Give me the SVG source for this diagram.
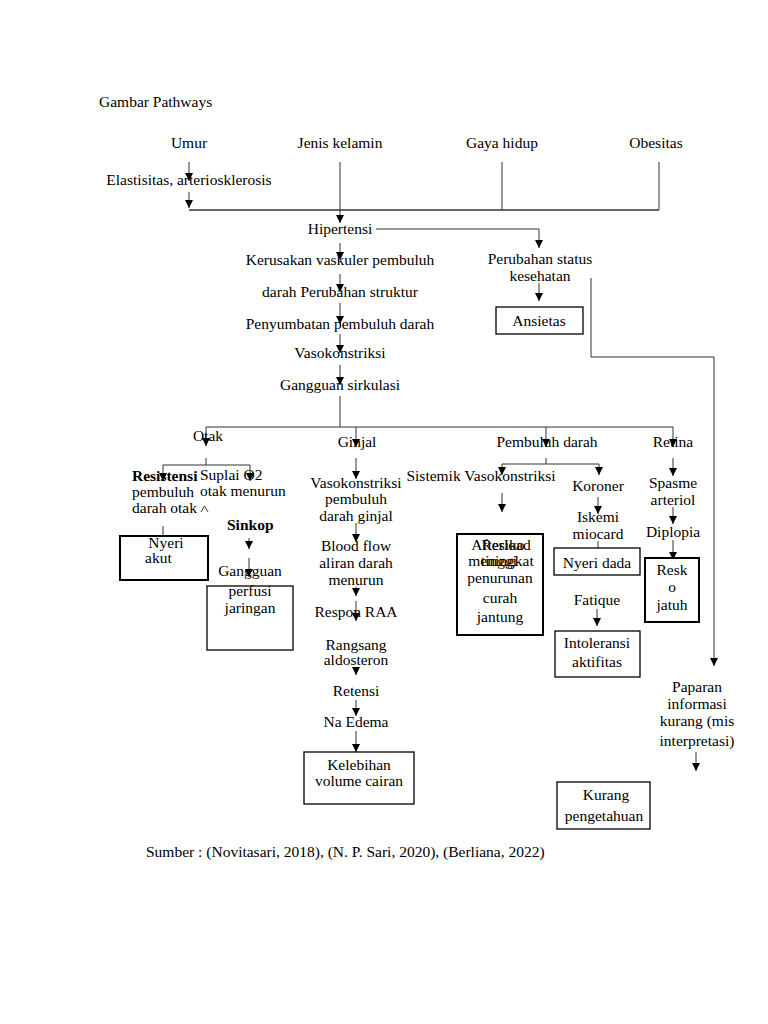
<svg xmlns="http://www.w3.org/2000/svg" width="768" height="1024" viewBox="0 0 768 1024">
<defs>
<marker id="ah" viewBox="0 0 8 8" refX="8" refY="4" markerWidth="8" markerHeight="8" markerUnits="userSpaceOnUse" orient="auto">
<path d="M0,0 L8,4 L0,8 z" fill="#000"/>
</marker>
<style>
text{font-family:"Liberation Serif","Times New Roman",serif;font-size:15.5px;fill:#000}
.c{text-anchor:middle}
.b{font-weight:bold}
.ln{fill:none;stroke:#333;stroke-width:1}
.ar{fill:none;stroke:#333;stroke-width:1;marker-end:url(#ah)}
.bx{fill:#fff;stroke:#000;stroke-width:1.3}
.bx2{fill:#fff;stroke:#000;stroke-width:2}
</style>
</defs>
<rect width="768" height="1024" fill="#fff"/>
<text x="99" y="107">Gambar Pathways</text>

<g id="connectors">
<path class="ar" d="M189,162 V181"/>
<path class="ar" d="M189,192 V208"/>
<path class="ln" d="M189,210 H659" style="stroke-width:1.6"/>
<path class="ln" d="M502,162 V210"/>
<path class="ln" d="M659,162 V210"/>
<path class="ar" d="M340,162 V223"/>
<path class="ar" d="M376,229 H539 V248"/>
<path class="ar" d="M539,283 V301"/>
<path class="ar" d="M591,278 V357 H714 V666"/>
<path class="ar" d="M340,243 V260"/>
<path class="ar" d="M340,274 V292"/>
<path class="ar" d="M340,303 V324"/>
<path class="ar" d="M340,334 V353"/>
<path class="ar" d="M340,365 V385"/>
<path class="ln" d="M340,396 V427"/>
<path class="ln" d="M206,427 H673"/>
<path class="ar" d="M206,427 V446"/>
<path class="ar" d="M356,427 V447"/>
<path class="ar" d="M546,427 V447"/>
<path class="ar" d="M673,427 V447"/>
<path class="ln" d="M206,458 V465"/>
<path class="ar" d="M163,465 H250 V481"/>
<path class="ar" d="M163,465 V481"/>
<path class="ln" d="M201,512 L204.5,506 L208,512"/>
<path class="ar" d="M163,526 V547"/>
<path class="ar" d="M249,538 V549"/>
<path class="ar" d="M249,558 V577"/>
<path class="ar" d="M356,458 V479"/>
<path class="ar" d="M356,523 V542"/>
<path class="ar" d="M356,587 V596"/>
<path class="ar" d="M356,601 V621"/>
<path class="ar" d="M356,667 V675"/>
<path class="ar" d="M356,700 V716"/>
<path class="ar" d="M356,731 V752"/>
<path class="ln" d="M546,458 V464"/>
<path class="ar" d="M502,464 H599 V475"/>
<path class="ar" d="M502,464 V475"/>
<path class="ar" d="M502,493 V512"/>
<path class="ar" d="M598,497 V514"/>
<path class="ar" d="M598,541 V558"/>
<path class="ar" d="M597,609 V626"/>
<path class="ar" d="M673,458 V476"/>
<path class="ar" d="M673,507 V524"/>
<path class="ar" d="M673,540 V560"/>
<path class="ar" d="M696,752 V771"/>
</g>

<g id="n-umur"><text class="c" x="189" y="148">Umur</text></g>
<g id="n-jenis"><text class="c" x="340" y="148">Jenis kelamin</text></g>
<g id="n-gaya"><text class="c" x="502" y="148">Gaya hidup</text></g>
<g id="n-obes"><text class="c" x="656" y="148">Obesitas</text></g>
<g id="n-elast"><text class="c" x="189" y="185">Elastisitas, arteriosklerosis</text></g>
<g id="n-hiper"><text class="c" x="340" y="234">Hipertensi</text></g>
<g id="n-perubahan"><text class="c" x="540" y="264">Perubahan status</text><text class="c" x="540" y="281">kesehatan</text></g>
<g id="n-ansietas"><rect class="bx" x="496" y="307" width="87" height="27"/><text class="c" x="539" y="326">Ansietas</text></g>
<g id="n-kerusakan"><text class="c" x="340" y="265">Kerusakan vaskuler pembuluh</text></g>
<g id="n-darah"><text class="c" x="340" y="297">darah Perubahan struktur</text></g>
<g id="n-penyumbatan"><text class="c" x="340" y="329">Penyumbatan pembuluh darah</text></g>
<g id="n-vaso"><text class="c" x="340" y="358">Vasokonstriksi</text></g>
<g id="n-gangguan"><text class="c" x="340" y="390">Gangguan sirkulasi</text></g>
<g id="n-otak"><text class="c" x="208" y="441">Otak</text></g>
<g id="n-ginjal"><text class="c" x="357" y="447">Ginjal</text></g>
<g id="n-pembuluh"><text class="c" x="547" y="447">Pembuluh darah</text></g>
<g id="n-retina"><text class="c" x="673" y="447">Retina</text></g>
<g id="n-resistensi"><text class="b" x="132" y="481">Resistensi</text><text x="132" y="497">pembuluh</text><text x="132" y="513">darah otak</text></g>
<g id="n-suplai"><text x="200" y="480">Suplai O2</text><text x="200" y="496">otak menurun</text></g>
<g id="n-nyeriakut"><rect class="bx2" x="120" y="536" width="88" height="44"/><text class="c" x="166" y="548">Nyeri</text><text x="145" y="563">akut</text></g>
<g id="n-sinkop"><text class="b" x="227" y="530">Sinkop</text></g>
<g id="n-perfusi"><rect class="bx" x="207" y="586" width="86" height="64"/><text class="c" x="250" y="576">Gangguan</text><text class="c" x="250" y="596">perfusi</text><text class="c" x="250" y="613">jaringan</text></g>
<g id="n-vasoginjal"><text class="c" x="356" y="488">Vasokonstriksi</text><text class="c" x="356" y="504">pembuluh</text><text class="c" x="356" y="521">darah ginjal</text></g>
<g id="n-blood"><text class="c" x="356" y="551">Blood flow</text><text class="c" x="356" y="568">aliran darah</text><text class="c" x="356" y="585">menurun</text></g>
<g id="n-raa"><text class="c" x="356" y="617">Respon RAA</text></g>
<g id="n-rangsang"><text class="c" x="356" y="650">Rangsang</text><text class="c" x="356" y="665">aldosteron</text></g>
<g id="n-retensi"><text class="c" x="356" y="696">Retensi</text></g>
<g id="n-edema"><text class="c" x="356" y="727">Na Edema</text></g>
<g id="n-kelebihan"><rect class="bx" x="304" y="752" width="110" height="52"/><text class="c" x="359" y="770">Kelebihan</text><text class="c" x="359" y="786">volume cairan</text></g>
<g id="n-sistemik"><text class="c" x="481" y="481">Sistemik Vasokonstriksi</text></g>
<g id="n-koroner"><text class="c" x="598" y="491">Koroner</text></g>
<g id="n-afterload"><rect class="bx2" x="457" y="534" width="86" height="101"/>
<text class="c" x="501" y="550">Afterload</text><text class="c" x="503" y="550">Resiko</text>
<text class="c" x="501" y="566">meningkat</text><text class="c" x="499" y="566">tinggi</text>
<text class="c" x="500" y="583">penurunan</text><text class="c" x="500" y="603">curah</text><text class="c" x="500" y="622">jantung</text></g>
<g id="n-iskemi"><text class="c" x="598" y="522">Iskemi</text><text class="c" x="598" y="539">miocard</text></g>
<g id="n-nyeridada"><rect class="bx" x="554" y="548" width="86" height="27"/><text class="c" x="597" y="568">Nyeri dada</text></g>
<g id="n-fatique"><text class="c" x="597" y="605">Fatique</text></g>
<g id="n-intoleransi"><rect class="bx" x="555" y="631" width="85" height="46"/><text class="c" x="597" y="648">Intoleransi</text><text class="c" x="597" y="667">aktifitas</text></g>
<g id="n-spasme"><text class="c" x="673" y="488">Spasme</text><text class="c" x="673" y="505">arteriol</text></g>
<g id="n-diplopia"><text class="c" x="673" y="537">Diplopia</text></g>
<g id="n-resko"><rect class="bx2" x="645" y="558" width="54" height="64"/><text class="c" x="672" y="575">Resk</text><text class="c" x="672" y="592">o</text><text class="c" x="672" y="610">jatuh</text></g>
<g id="n-paparan"><text class="c" x="697" y="692">Paparan</text><text class="c" x="697" y="709">informasi</text><text class="c" x="697" y="726">kurang (mis</text><text class="c" x="697" y="746">interpretasi)</text></g>
<g id="n-kurang"><rect class="bx" x="557" y="782" width="93" height="47"/><text class="c" x="606" y="800">Kurang</text><text class="c" x="604" y="821">pengetahuan</text></g>

<text x="146" y="857">Sumber : (Novitasari, 2018), (N. P. Sari, 2020), (Berliana, 2022)</text>
</svg>
